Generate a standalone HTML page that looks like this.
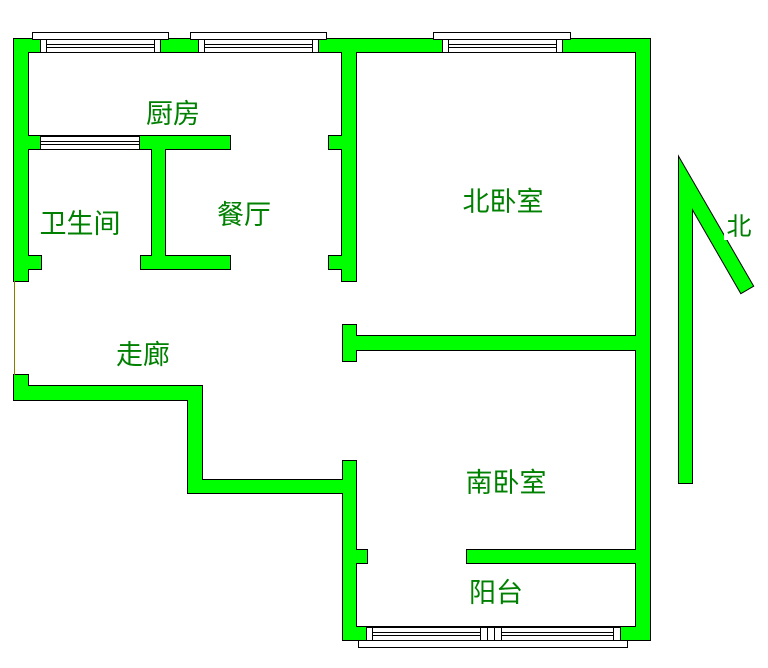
<!DOCTYPE html>
<html><head><meta charset="utf-8"><style>
html,body{margin:0;padding:0;background:#fff;width:768px;height:668px;overflow:hidden}
svg{display:block}
text{font-family:"Liberation Sans","Noto Sans CJK SC",sans-serif;font-size:27px;fill:#008000}
</style></head><body>
<svg width="768" height="668" viewBox="0 0 768 668">
<defs>
<g id="walls">
<rect x="14" y="39" width="636" height="13"/>
<rect x="14" y="39" width="14" height="242"/>
<rect x="636" y="39" width="14" height="601"/>
<rect x="342" y="39" width="14" height="242"/>
<rect x="329" y="136" width="14" height="13"/>
<rect x="329" y="256" width="14" height="13"/>
<rect x="28" y="136" width="202" height="13"/>
<rect x="152" y="149" width="13" height="107"/>
<rect x="141" y="256" width="89" height="13"/>
<rect x="28" y="256" width="13" height="13"/>
<rect x="14" y="375" width="14" height="25"/>
<rect x="14" y="386" width="188" height="14"/>
<rect x="188" y="386" width="14" height="107"/>
<rect x="188" y="480" width="168" height="13"/>
<rect x="343" y="461" width="13" height="179"/>
<rect x="356" y="550" width="11" height="13"/>
<rect x="343" y="627" width="307" height="13"/>
<rect x="343" y="325" width="13" height="36"/>
<rect x="343" y="336" width="307" height="14"/>
<rect x="467" y="550" width="183" height="13"/>
<polygon points="679,158 753,286 741,293 692,208 692,483 679,483"/>
</g>
</defs>
<g fill="#000" stroke="#000" stroke-width="2"><use href="#walls"/></g>
<g fill="#00ff00"><use href="#walls"/></g>
<line x1="14.5" y1="281" x2="14.5" y2="375" stroke="#808000" stroke-width="1"/>
<g fill="#fff" stroke="#000" stroke-width="1">
<rect x="32.5" y="32.5" width="136" height="7"/>
<rect x="40.5" y="39.5" width="120" height="13"/>
<rect x="40.5" y="39.5" width="6" height="13"/><rect x="154.5" y="39.5" width="6" height="13"/>
<rect x="190.5" y="32.5" width="136" height="7"/>
<rect x="198.5" y="39.5" width="120" height="13"/>
<rect x="198.5" y="39.5" width="6" height="13"/><rect x="312.5" y="39.5" width="6" height="13"/>
<rect x="433.5" y="32.5" width="137" height="7"/>
<rect x="442.5" y="39.5" width="120" height="13"/>
<rect x="442.5" y="39.5" width="6" height="13"/><rect x="556.5" y="39.5" width="6" height="13"/>
<rect x="40.5" y="136.5" width="99" height="13"/>
<rect x="358.5" y="640.5" width="269" height="7"/>
<rect x="366.5" y="627.5" width="254" height="13"/>
<rect x="366.5" y="627.5" width="6" height="13"/><rect x="480.5" y="627.5" width="7" height="13"/>
<rect x="487.5" y="627.5" width="7" height="13"/><rect x="494.5" y="627.5" width="7" height="13"/>
<rect x="613.5" y="627.5" width="7" height="13"/>
</g>
<g stroke="#000" stroke-width="1">
<line x1="46" y1="44.5" x2="154" y2="44.5"/><line x1="46" y1="47.5" x2="154" y2="47.5"/>
<line x1="204" y1="44.5" x2="312" y2="44.5"/><line x1="204" y1="47.5" x2="312" y2="47.5"/>
<line x1="448" y1="44.5" x2="556" y2="44.5"/><line x1="448" y1="47.5" x2="556" y2="47.5"/>
<line x1="40" y1="141.5" x2="139" y2="141.5"/><line x1="40" y1="144.5" x2="139" y2="144.5"/>
<line x1="373" y1="632.5" x2="480" y2="632.5"/><line x1="373" y1="635.5" x2="480" y2="635.5"/>
<line x1="501" y1="632.5" x2="613" y2="632.5"/><line x1="501" y1="635.5" x2="613" y2="635.5"/>
</g>
<rect x="724" y="210" width="30" height="30" fill="#fff"/>
<text x="173" y="123" text-anchor="middle">厨房</text>
<text x="80" y="233" text-anchor="middle">卫生间</text>
<text x="244" y="224" text-anchor="middle">餐厅</text>
<text x="503" y="211" text-anchor="middle">北卧室</text>
<text x="143" y="364" text-anchor="middle">走廊</text>
<text x="506" y="492" text-anchor="middle">南卧室</text>
<text x="496" y="602" text-anchor="middle">阳台</text>
<text x="739" y="235" text-anchor="middle" style="font-size:25px">北</text>
</svg>
</body></html>
